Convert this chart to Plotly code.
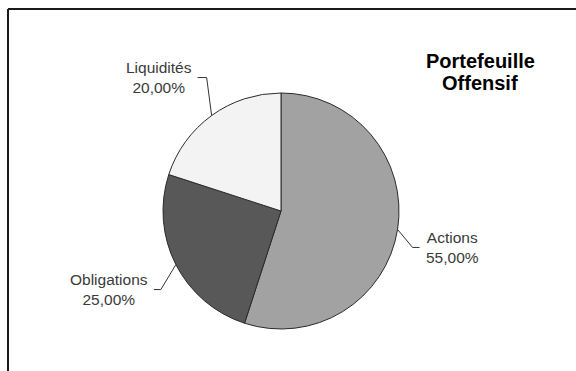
import math
import plotly.graph_objects as go

# ---- data ----
categories = ["Actions", "Obligations", "Liquidités"]
values = [55.0, 25.0, 20.0]
title_lines = ["Portefeuille", "Offensif"]

# ---- style ----
W, H = 576, 371
colors = ["#a2a2a2", "#585858", "#f3f3f3"]
FONT = "Liberation Sans, Arial, sans-serif"
label_color = "#3a3a3a"
cx, cy, R = 281, 211, 118  # pie centre / radius in px
# leader-line styling: (elbow dx, elbow dy, horizontal length, side)
leader_style = {
    "Actions": (15, 18, 7, "right"),
    "Obligations": (-15, 25, -7, "left"),
    "Liquidités": (-5, -38, -9, "left"),
}
title_y = [61, 83]

def px(x):
    return x / W

def py(y):
    return 1 - y / H

fig = go.Figure()
fig.add_trace(go.Pie(
    labels=categories, values=values, sort=False, direction="clockwise",
    rotation=0, textinfo="none", hoverinfo="label+percent",
    marker=dict(colors=colors, line=dict(color="#2a2a2a", width=1)),
    domain=dict(x=[px(cx - R), px(cx + R)], y=[py(cy + R), py(cy - R)]),
    showlegend=False,
))

shapes = []
annotations = []
total = sum(values)
cum = 0.0
for cat, v in zip(categories, values):
    mid = (cum + v / 2) / total * 2 * math.pi
    cum += v
    ex = cx + R * math.sin(mid)
    ey = cy - R * math.cos(mid)
    dx, dy, hl, side = leader_style[cat]
    bx, by = ex + dx, ey + dy
    hx = bx + hl
    shapes.append(dict(type="path", xref="paper", yref="paper",
                       path=f"M {px(ex)},{py(ey)} L {px(bx)},{py(by)} L {px(hx)},{py(by)}",
                       line=dict(color="#333333", width=1)))
    txt = f"{cat}<br>{v:.2f}%".replace(".", ",")
    tx = hx + (4 if side == "right" else -4)
    annotations.append(dict(
        x=px(tx), y=py(by), xref="paper", yref="paper", text=txt, showarrow=False,
        xanchor="left" if side == "right" else "right", yanchor="middle",
        align="center", font=dict(family=FONT, size=15.5, color=label_color),
    ))

for line, yy in zip(title_lines, title_y):
    annotations.append(dict(
        x=px(480), y=py(yy), xref="paper", yref="paper",
        text="<b>" + line + "</b>", showarrow=False,
        xanchor="center", yanchor="middle", align="center",
        font=dict(family=FONT, size=20, color="#000000"),
    ))

# frame (top & left edges visible)
shapes.append(dict(type="line", xref="paper", yref="paper",
                   x0=px(8), y0=py(9), x1=px(W + 2), y1=py(9),
                   line=dict(color="#1a1a1a", width=2)))
shapes.append(dict(type="line", xref="paper", yref="paper",
                   x0=px(8), y0=py(9), x1=px(8), y1=py(H + 2),
                   line=dict(color="#1a1a1a", width=2)))

fig.update_layout(
    width=W, height=H, margin=dict(l=0, r=0, t=0, b=0),
    paper_bgcolor="white", plot_bgcolor="white",
    shapes=shapes, annotations=annotations,
    font=dict(family=FONT),
)
fig.write_html("out.html")
